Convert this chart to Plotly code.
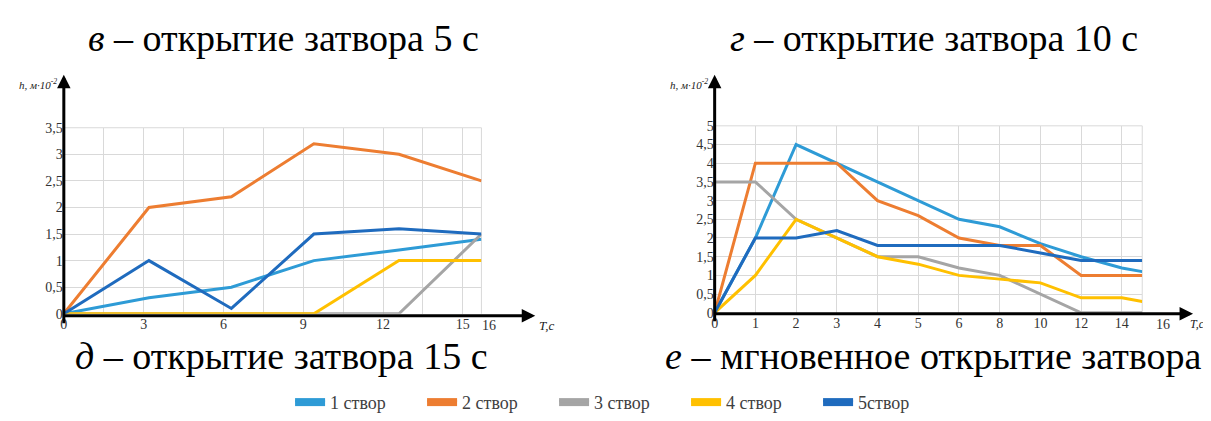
import numpy as np
import plotly.graph_objects as go

# ---------------- data: chart "д" (gate opening 15 s) ----------------
d_time = [0, 3.2, 6.3, 9.4, 12.6, 15.7]          # positions read on the T axis
d_s1 = [0, 0.3, 0.5, 1.0, 1.2, 1.4]
d_s2 = [0, 2.0, 2.2, 3.2, 3.0, 2.5]
d_s3 = [0, 0, 0, 0, 0, 1.5]
d_s4 = [0, 0, 0, 0, 1.0, 1.0]
d_s5 = [0, 1.0, 0.1, 1.5, 1.6, 1.5]
d_xticks = [0, 3, 6, 9, 12, 15]
d_xtick_extra = 16
d_yticks = [0, 0.5, 1, 1.5, 2, 2.5, 3, 3.5]

# ---------------- data: chart "е" (instant gate opening) ----------------
e_time = [0, 1, 2, 3, 4, 5, 6, 8, 10, 12, 14, 15]
e_s1 = [0, 2.0, 4.5, 4.0, 3.5, 3.0, 2.5, 2.3, 1.85, 1.5, 1.2, 1.1]
e_s2 = [0, 4.0, 4.0, 4.0, 3.0, 2.6, 2.0, 1.8, 1.8, 1.0, 1.0, 1.0]
e_s3 = [3.5, 3.5, 2.5, 2.0, 1.5, 1.5, 1.2, 1.0, 0.5, 0, 0, 0]
e_s4 = [0, 1.0, 2.5, 2.0, 1.5, 1.3, 1.0, 0.9, 0.8, 0.4, 0.4, 0.3]
e_s5 = [0, 2.0, 2.0, 2.2, 1.8, 1.8, 1.8, 1.8, 1.6, 1.4, 1.4, 1.4]
e_xticks = [0, 1, 2, 3, 4, 5, 6, 8, 10, 12, 14, 16]   # equally spaced category ticks
e_yticks = [0, 0.5, 1, 1.5, 2, 2.5, 3, 3.5, 4, 4.5, 5]

names = ["1 створ", "2 створ", "3 створ", "4 створ", "5створ"]
colors = ["#2E9BD6", "#ED7D31", "#A5A5A5", "#FFC000", "#1F6BBE"]

titles = ["<i>в</i> – открытие затвора 5 с",
          "<i>г</i> – открытие затвора 10 с",
          "<i>д</i> – открытие затвора 15 с",
          "<i>е</i> – мгновенное открытие затвора"]


def fmt(v):
    return (("%g" % v).replace(".", ","))


# the page body keeps its 8 px margin: the figure starts at (8, 8) in the window
OFF = 8
W, H = 1211 - OFF, 421 - OFF


def px(x):
    return (x - OFF) / W


def py(y):
    return 1 - (y - OFF) / H


SERIF = "Liberation Serif, Times New Roman, serif"
GRID = "#D9D9D9"

# tick index positions on the "е" axis (labels are equally spaced)
e_idx = np.arange(len(e_xticks))
e_pos = np.interp(e_time, e_xticks, e_idx)

fig = go.Figure()

d_series = [d_s1, d_s2, d_s3, d_s4, d_s5]
e_series = [e_s1, e_s2, e_s3, e_s4, e_s5]

for s, name, c in zip(d_series, names, colors):
    fig.add_trace(go.Scatter(x=d_time, y=s, mode="lines", name=name,
                             line=dict(color=c, width=3), showlegend=False,
                             xaxis="x", yaxis="y"))
for s, name, c in zip(e_series, names, colors):
    fig.add_trace(go.Scatter(x=e_pos, y=s, mode="lines", name=name,
                             line=dict(color=c, width=3), showlegend=False,
                             xaxis="x2", yaxis="y2"))
# legend entries (filled swatches)
for name, c in zip(names, colors):
    fig.add_trace(go.Scatter(x=[None], y=[None], mode="lines", name=name,
                             fill="toself", fillcolor=c,
                             line=dict(color=c, width=4), showlegend=True,
                             xaxis="x", yaxis="y"))

tickfont = dict(family=SERIF, size=14, color="#333333")

fig.update_layout(
    width=W, height=H,
    margin=dict(l=0, r=0, t=0, b=0),
    paper_bgcolor="white", plot_bgcolor="white",
    xaxis=dict(domain=[px(60), px(479)], range=[0, d_time[-1]],
               tickmode="array", tickvals=d_xticks,
               ticktext=[str(v) for v in d_xticks],
               showgrid=True, gridcolor=GRID, gridwidth=1,
               minor=dict(tickmode="linear", tick0=0, dtick=1.5,
                          showgrid=True, gridcolor=GRID, gridwidth=1),
               zeroline=False, showline=False, ticks="",
               tickfont=tickfont, anchor="y"),
    yaxis=dict(domain=[py(318), py(125)], range=[0, 3.5],
               tickmode="array", tickvals=d_yticks,
               ticktext=[fmt(v) for v in d_yticks],
               showgrid=True, gridcolor=GRID, gridwidth=1,
               zeroline=False, showline=False, ticks="",
               tickfont=tickfont, anchor="x"),
    xaxis2=dict(domain=[px(713), px(1142)], range=[0, e_pos[-1]],
                tickmode="array", tickvals=list(e_idx[:-1]),
                ticktext=[str(v) for v in e_xticks[:-1]],
                showgrid=True, gridcolor=GRID, gridwidth=1,
                zeroline=False, showline=False, ticks="",
                tickfont=tickfont, anchor="y2"),
    yaxis2=dict(domain=[py(317), py(123)], range=[0, 5],
                tickmode="array", tickvals=e_yticks,
                ticktext=[fmt(v) for v in e_yticks],
                showgrid=True, gridcolor=GRID, gridwidth=1,
                zeroline=False, showline=False, ticks="",
                tickfont=tickfont, anchor="x2"),
    legend=dict(orientation="h", x=px(287), xanchor="left",
                y=py(410), yanchor="middle",
                font=dict(family=SERIF, size=18, color="#404040"),
                itemwidth=30, entrywidth=87, entrywidthmode="pixels",
                bgcolor="rgba(0,0,0,0)", borderwidth=0),
    showlegend=True,
)

shapes = []
for xa, ya in (("x", "y"), ("x2", "y2")):
    # right and top border of the grid
    shapes.append(dict(type="line", xref=xa + " domain", yref=ya + " domain",
                       x0=1, x1=1, y0=0, y1=1, line=dict(color=GRID, width=1), layer="below"))
    shapes.append(dict(type="line", xref=xa + " domain", yref=ya + " domain",
                       x0=0, x1=1, y0=1, y1=1, line=dict(color=GRID, width=1), layer="below"))
fig.update_layout(shapes=shapes)

ann = []
# axis arrows
arrow = dict(text="", showarrow=True, arrowhead=2, arrowsize=0.9,
             arrowwidth=3, arrowcolor="black", xref="paper", yref="paper",
             axref="pixel", ayref="pixel")
ann.append(dict(arrow, x=px(60), y=py(70), ax=0, ay=250))
ann.append(dict(arrow, x=px(533), y=py(320), ax=-473, ay=0))
ann.append(dict(arrow, x=px(713), y=py(70), ax=0, ay=248))
ann.append(dict(arrow, x=px(1193), y=py(318), ax=-480, ay=0))

# axis titles
lab = dict(showarrow=False, xref="paper", yref="paper",
           font=dict(family=SERIF, size=11, color="#222222"))
ann.append(dict(lab, text="<i>h, м·10<sup>-2</sup></i>", x=px(34), y=py(80),
                xanchor="center", yanchor="middle"))
ann.append(dict(lab, text="<i>h, м·10<sup>-2</sup></i>", x=px(687), y=py(80),
                xanchor="center", yanchor="middle"))
ann.append(dict(lab, text="<i>T,c</i>", x=px(535), y=py(330),
                xanchor="left", yanchor="middle", font=dict(family=SERIF, size=13, color="#222222")))
ann.append(dict(lab, text="<i>T,c</i>", x=px(1207), y=py(329),
                xanchor="right", yanchor="middle", font=dict(family=SERIF, size=12, color="#222222")))
# extra tick labels beyond the grid
ann.append(dict(showarrow=False, xref="x domain", yref="paper",
                x=d_xtick_extra / d_time[-1], y=py(330), text=str(d_xtick_extra),
                xanchor="center", yanchor="middle", font=tickfont))
ann.append(dict(showarrow=False, xref="x2 domain", yref="paper",
                x=e_idx[-1] / e_pos[-1], y=py(329), text=str(e_xticks[-1]),
                xanchor="center", yanchor="middle", font=tickfont))

# panel captions
cap = dict(showarrow=False, xref="paper", yref="paper", xanchor="center",
           yanchor="middle", font=dict(family=SERIF, size=38, color="black"))
ann.append(dict(cap, text=titles[0], x=px(280), y=py(32)))
ann.append(dict(cap, text=titles[1], x=px(933), y=py(32)))
ann.append(dict(cap, text=titles[2], x=px(278), y=py(362)))
ann.append(dict(cap, text=titles[3], x=px(933), y=py(362)))

fig.update_layout(annotations=ann)

fig.write_html("out.html")
